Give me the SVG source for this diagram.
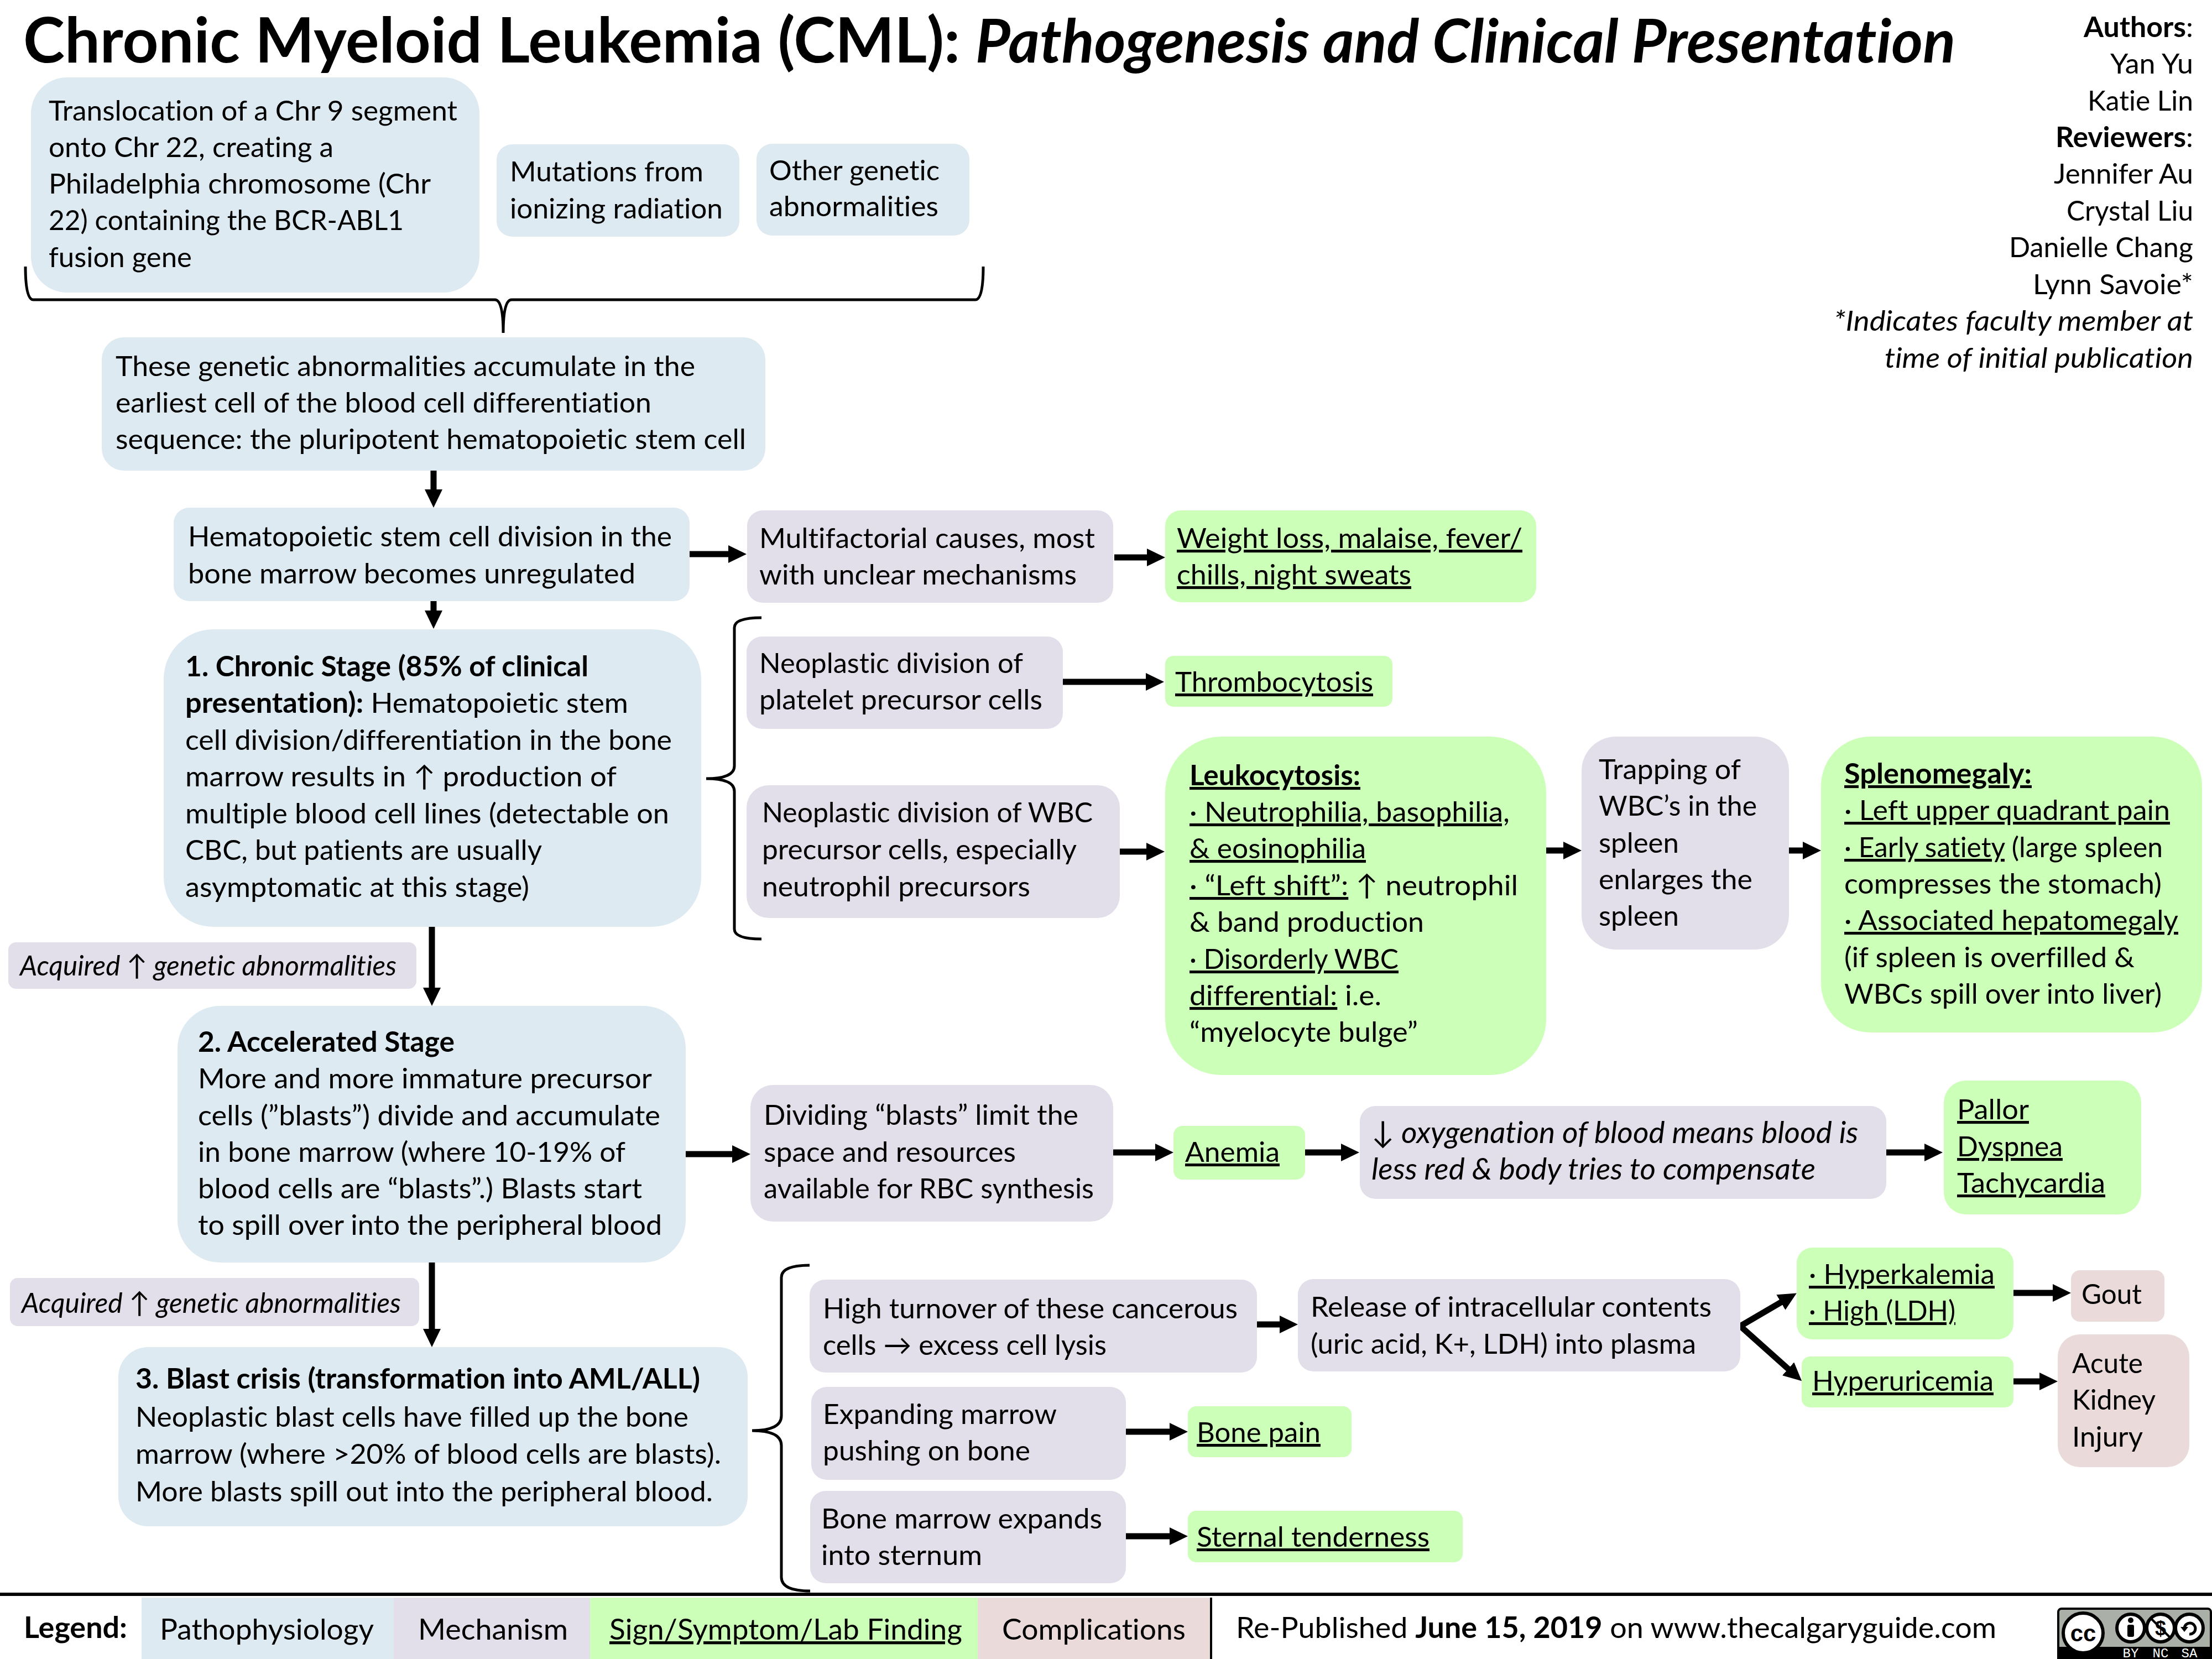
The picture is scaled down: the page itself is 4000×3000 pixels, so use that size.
<svg xmlns="http://www.w3.org/2000/svg" width="4000" height="3000" viewBox="0 0 4000 3000">
<style>
text{font-family:"Lato","DejaVu Sans",sans-serif;font-size:51px;fill:#000;font-variant-ligatures:none}
g[id^="n-"] text{transform:translate(-2px,0)}
.title{font-size:113.5px;font-weight:700}
.title .i{font-size:109px}
.lg{font-size:53px}
.ox{font-size:55px}
.b{font-weight:700}.i{font-style:italic}
.u{text-decoration:underline;text-decoration-thickness:6px;text-underline-offset:7px;text-decoration-skip-ink:none}
.blue{fill:#DEEAF1}.pur{fill:#E2DFEB}.grn{fill:#CCFFB8}.pink{fill:#EADADA}
.end{text-anchor:end}
.arr{fill:none;stroke:#000;stroke-width:11;marker-end:url(#h)}
.brace{fill:none;stroke:#000;stroke-width:5}
.icon{fill:#fff;stroke:#000;stroke-width:6}
.ctext{font-family:"Liberation Mono",monospace;font-size:24px;fill:#fff}
</style>
<defs>
<marker id="h" markerUnits="userSpaceOnUse" viewBox="0 0 33 32" markerWidth="33" markerHeight="32" refX="10" refY="16" orient="auto"><path d="M0 0L33 16L0 32z"/></marker>
</defs>
<rect width="4000" height="3000" fill="#fff"/>
<g id="title">
<text class="title" x="42" y="113" textLength="3494" lengthAdjust="spacingAndGlyphs">Chronic Myeloid Leukemia (CML): <tspan class="i">Pathogenesis and Clinical Presentation</tspan></text>
</g>
<g id="authors">
<text class="end" x="3966" y="67" textLength="198" lengthAdjust="spacingAndGlyphs"><tspan class="b">Authors</tspan>:</text>
<text class="end" x="3966" y="133" textLength="150" lengthAdjust="spacingAndGlyphs">Yan Yu</text>
<text class="end" x="3966" y="200" textLength="191" lengthAdjust="spacingAndGlyphs">Katie Lin</text>
<text class="end" x="3966" y="266" textLength="249" lengthAdjust="spacingAndGlyphs"><tspan class="b">Reviewers</tspan>:</text>
<text class="end" x="3966" y="332" textLength="252" lengthAdjust="spacingAndGlyphs">Jennifer Au</text>
<text class="end" x="3966" y="399" textLength="229" lengthAdjust="spacingAndGlyphs">Crystal Liu</text>
<text class="end" x="3966" y="465" textLength="333" lengthAdjust="spacingAndGlyphs">Danielle Chang</text>
<text class="end" x="3966" y="532" textLength="290" lengthAdjust="spacingAndGlyphs">Lynn Savoie*</text>
<text class="end i" x="3966" y="598" textLength="650" lengthAdjust="spacingAndGlyphs">*Indicates faculty member at</text>
<text class="end i" x="3966" y="665" textLength="558" lengthAdjust="spacingAndGlyphs">time of initial publication</text>
</g>
<g id="connectors">
<path class="brace" d="M46 482Q46 542 60 542L895 542Q910 542 910 602Q910 542 925 542L1764 542Q1778 542 1778 482"/>
<path class="brace" d="M1377 1117Q1328 1117 1328 1135L1328 1385Q1328 1408 1277 1408Q1328 1408 1328 1431L1328 1680Q1328 1698 1377 1698"/>
<path class="brace" d="M1464 2288Q1413 2288 1413 2310L1413 2560Q1413 2587 1360 2587Q1413 2587 1413 2614L1413 2852Q1413 2877 1465 2877"/>
<path class="arr" d="M784 851V895"/>
<path class="arr" d="M784 1087V1114"/>
<path class="arr" d="M781 1676V1796"/>
<path class="arr" d="M781 2283V2413"/>
<path class="arr" d="M1247 1002H1327"/>
<path class="arr" d="M2015 1008H2084"/>
<path class="arr" d="M1922 1233H2082"/>
<path class="arr" d="M2025 1540H2083"/>
<path class="arr" d="M2796 1538H2837"/>
<path class="arr" d="M3235 1538H3270"/>
<path class="arr" d="M1240 2087H1334"/>
<path class="arr" d="M2013 2084H2099"/>
<path class="arr" d="M2360 2084H2435"/>
<path class="arr" d="M3411 2084H3490"/>
<path class="arr" d="M2273 2395H2324"/>
<path class="arr" d="M3147 2398L3229 2350"/>
<path class="arr" d="M3147 2398L3241 2482"/>
<path class="arr" d="M3641 2338H3722"/>
<path class="arr" d="M3641 2498H3698"/>
<path class="arr" d="M2036 2589H2125"/>
<path class="arr" d="M2036 2778H2125"/>
</g>
<g id="n-translocation"><rect class="blue" x="56" y="140" width="811" height="389" rx="65"/>
<text x="90" y="218" textLength="739" lengthAdjust="spacingAndGlyphs">Translocation of a Chr 9 segment</text>
<text x="90" y="284" textLength="515" lengthAdjust="spacingAndGlyphs">onto Chr 22, creating a</text>
<text x="90" y="350" textLength="691" lengthAdjust="spacingAndGlyphs">Philadelphia chromosome (Chr</text>
<text x="90" y="416" textLength="642" lengthAdjust="spacingAndGlyphs">22) containing the BCR-ABL1</text>
<text x="90" y="483" textLength="259" lengthAdjust="spacingAndGlyphs">fusion gene</text></g>
<g id="n-mutations"><rect class="blue" x="898" y="261" width="439" height="167" rx="28"/>
<text x="924" y="328" textLength="350" lengthAdjust="spacingAndGlyphs">Mutations from</text>
<text x="924" y="395" textLength="385" lengthAdjust="spacingAndGlyphs">ionizing radiation</text></g>
<g id="n-other"><rect class="blue" x="1368" y="260" width="385" height="166" rx="28"/>
<text x="1393" y="326" textLength="308" lengthAdjust="spacingAndGlyphs">Other genetic</text>
<text x="1393" y="391" textLength="306" lengthAdjust="spacingAndGlyphs">abnormalities</text></g>
<g id="n-accumulate"><rect class="blue" x="184" y="610" width="1200" height="241" rx="40"/>
<text x="211" y="680" textLength="1048" lengthAdjust="spacingAndGlyphs">These genetic abnormalities accumulate in the</text>
<text x="211" y="746" textLength="969" lengthAdjust="spacingAndGlyphs">earliest cell of the blood cell differentiation</text>
<text x="211" y="812" textLength="1140" lengthAdjust="spacingAndGlyphs">sequence: the pluripotent hematopoietic stem cell</text></g>
<g id="n-unregulated"><rect class="blue" x="314" y="918" width="933" height="169" rx="28"/>
<text x="342" y="988" textLength="875" lengthAdjust="spacingAndGlyphs">Hematopoietic stem cell division in the</text>
<text x="342" y="1055" textLength="809" lengthAdjust="spacingAndGlyphs">bone marrow becomes unregulated</text></g>
<g id="n-chronic"><rect class="blue" x="296" y="1138" width="972" height="538" rx="90"/>
<text x="337" y="1223" class="b" textLength="729" lengthAdjust="spacingAndGlyphs">1. Chronic Stage (85% of clinical</text>
<text x="337" y="1289" textLength="801" lengthAdjust="spacingAndGlyphs"><tspan class="b">presentation):</tspan> Hematopoietic stem</text>
<text x="337" y="1356" textLength="880" lengthAdjust="spacingAndGlyphs">cell division/differentiation in the bone</text>
<text x="337" y="1422" textLength="780" lengthAdjust="spacingAndGlyphs">marrow results in ↑ production of</text>
<text x="337" y="1489" textLength="875" lengthAdjust="spacingAndGlyphs">multiple blood cell lines (detectable on</text>
<text x="337" y="1555" textLength="645" lengthAdjust="spacingAndGlyphs">CBC, but patients are usually</text>
<text x="337" y="1622" textLength="622" lengthAdjust="spacingAndGlyphs">asymptomatic at this stage)</text></g>
<g id="n-acquired1"><rect class="pur" x="15" y="1704" width="738" height="84" rx="14"/>
<text class="i" x="38" y="1764" textLength="681" lengthAdjust="spacingAndGlyphs">Acquired ↑ genetic abnormalities</text></g>
<g id="n-accelerated"><rect class="blue" x="321" y="1819" width="919" height="464" rx="77"/>
<text x="360" y="1902" class="b" textLength="464" lengthAdjust="spacingAndGlyphs">2. Accelerated Stage</text>
<text x="360" y="1968" textLength="821" lengthAdjust="spacingAndGlyphs">More and more immature precursor</text>
<text x="360" y="2035" textLength="836" lengthAdjust="spacingAndGlyphs">cells (”blasts”) divide and accumulate</text>
<text x="360" y="2101" textLength="773" lengthAdjust="spacingAndGlyphs">in bone marrow (where 10-19% of</text>
<text x="360" y="2167" textLength="803" lengthAdjust="spacingAndGlyphs">blood cells are “blasts”.) Blasts start</text>
<text x="360" y="2233" textLength="839" lengthAdjust="spacingAndGlyphs">to spill over into the peripheral blood</text></g>
<g id="n-acquired2"><rect class="pur" x="18" y="2311" width="740" height="87" rx="14"/>
<text class="i" x="41" y="2374" textLength="686" lengthAdjust="spacingAndGlyphs">Acquired ↑ genetic abnormalities</text></g>
<g id="n-blast"><rect class="blue" x="214" y="2436" width="1138" height="324" rx="54"/>
<text x="247" y="2511" class="b" textLength="1021" lengthAdjust="spacingAndGlyphs">3. Blast crisis (transformation into AML/ALL)</text>
<text x="247" y="2580" textLength="1000" lengthAdjust="spacingAndGlyphs">Neoplastic blast cells have filled up the bone</text>
<text x="247" y="2647" textLength="1059" lengthAdjust="spacingAndGlyphs">marrow (where &gt;20% of blood cells are blasts).</text>
<text x="247" y="2715" textLength="1044" lengthAdjust="spacingAndGlyphs">More blasts spill out into the peripheral blood.</text></g>
<g id="n-multifactorial"><rect class="pur" x="1351" y="923" width="662" height="167" rx="28"/>
<text x="1375" y="991" textLength="607" lengthAdjust="spacingAndGlyphs">Multifactorial causes, most</text>
<text x="1375" y="1057" textLength="574" lengthAdjust="spacingAndGlyphs">with unclear mechanisms</text></g>
<g id="n-platelet"><rect class="pur" x="1350" y="1151" width="572" height="167" rx="28"/>
<text x="1375" y="1217" textLength="477" lengthAdjust="spacingAndGlyphs">Neoplastic division of</text>
<text x="1375" y="1283" textLength="512" lengthAdjust="spacingAndGlyphs">platelet precursor cells</text></g>
<g id="n-wbc"><rect class="pur" x="1350" y="1420" width="675" height="240" rx="40"/>
<text x="1380" y="1487" textLength="598" lengthAdjust="spacingAndGlyphs">Neoplastic division of WBC</text>
<text x="1380" y="1554" textLength="569" lengthAdjust="spacingAndGlyphs">precursor cells, especially</text>
<text x="1380" y="1621" textLength="485" lengthAdjust="spacingAndGlyphs">neutrophil precursors</text></g>
<g id="n-weight"><rect class="grn" x="2107" y="923" width="671" height="166" rx="28"/>
<text class="u" x="2130" y="991" textLength="625" lengthAdjust="spacingAndGlyphs">Weight loss, malaise, fever/</text>
<text class="u" x="2130" y="1057" textLength="424" lengthAdjust="spacingAndGlyphs">chills, night sweats</text></g>
<g id="n-thrombo"><rect class="grn" x="2107" y="1186" width="411" height="92" rx="15"/>
<text class="u" x="2127" y="1251" textLength="358" lengthAdjust="spacingAndGlyphs">Thrombocytosis</text></g>
<g id="n-leuko"><rect class="grn" x="2107" y="1332" width="689" height="612" rx="102"/>
<text class="u b" x="2153" y="1420" textLength="309" lengthAdjust="spacingAndGlyphs">Leukocytosis:</text>
<text class="u" x="2153" y="1486" textLength="579" lengthAdjust="spacingAndGlyphs">· Neutrophilia, basophilia,</text>
<text class="u" x="2153" y="1552" textLength="319" lengthAdjust="spacingAndGlyphs">&amp; eosinophilia</text>
<text x="2153" y="1619" textLength="594" lengthAdjust="spacingAndGlyphs"><tspan class="u">· “Left shift”:</tspan> ↑ neutrophil</text>
<text x="2153" y="1685" textLength="424" lengthAdjust="spacingAndGlyphs">&amp; band production</text>
<text class="u" x="2153" y="1752" textLength="378" lengthAdjust="spacingAndGlyphs">· Disorderly WBC</text>
<text x="2153" y="1818" textLength="347" lengthAdjust="spacingAndGlyphs"><tspan class="u">differential:</tspan> i.e.</text>
<text x="2153" y="1884" textLength="413" lengthAdjust="spacingAndGlyphs">“myelocyte bulge”</text></g>
<g id="n-trapping"><rect class="pur" x="2860" y="1332" width="375" height="385" rx="62"/>
<text x="2893" y="1409" textLength="257" lengthAdjust="spacingAndGlyphs">Trapping of</text>
<text x="2893" y="1475" textLength="286" lengthAdjust="spacingAndGlyphs">WBC’s in the</text>
<text x="2893" y="1542" textLength="145" lengthAdjust="spacingAndGlyphs">spleen</text>
<text x="2893" y="1608" textLength="278" lengthAdjust="spacingAndGlyphs">enlarges the</text>
<text x="2893" y="1674" textLength="145" lengthAdjust="spacingAndGlyphs">spleen</text></g>
<g id="n-spleno"><rect class="grn" x="3293" y="1332" width="689" height="535" rx="89"/>
<text class="u b" x="3337" y="1417" textLength="339" lengthAdjust="spacingAndGlyphs">Splenomegaly:</text>
<text class="u" x="3337" y="1483" textLength="589" lengthAdjust="spacingAndGlyphs">· Left upper quadrant pain</text>
<text x="3337" y="1550" textLength="576" lengthAdjust="spacingAndGlyphs"><tspan class="u">· Early satiety</tspan> (large spleen</text>
<text x="3337" y="1616" textLength="574" lengthAdjust="spacingAndGlyphs">compresses the stomach)</text>
<text class="u" x="3337" y="1682" textLength="604" lengthAdjust="spacingAndGlyphs">· Associated hepatomegaly</text>
<text x="3337" y="1749" textLength="525" lengthAdjust="spacingAndGlyphs">(if spleen is overfilled &amp;</text>
<text x="3337" y="1815" textLength="574" lengthAdjust="spacingAndGlyphs">WBCs spill over into liver)</text></g>
<g id="n-dividing"><rect class="pur" x="1357" y="1962" width="656" height="247" rx="41"/>
<text x="1383" y="2034" textLength="569" lengthAdjust="spacingAndGlyphs">Dividing “blasts” limit the</text>
<text x="1383" y="2101" textLength="456" lengthAdjust="spacingAndGlyphs">space and resources</text>
<text x="1383" y="2167" textLength="597" lengthAdjust="spacingAndGlyphs">available for RBC synthesis</text></g>
<g id="n-anemia"><rect class="grn" x="2122" y="2036" width="238" height="97" rx="16"/>
<text class="u" x="2145" y="2101" textLength="171" lengthAdjust="spacingAndGlyphs">Anemia</text></g>
<g id="n-oxygen"><rect class="pur" x="2459" y="2000" width="952" height="168" rx="28"/>
<text class="i ox" x="2482" y="2067">↓ oxygenation of blood means blood is</text>
<text class="i ox" x="2482" y="2133">less red &amp; body tries to compensate</text></g>
<g id="n-pallor"><rect class="grn" x="3515" y="1954" width="357" height="242" rx="40"/>
<text class="u" x="3541" y="2024" textLength="130" lengthAdjust="spacingAndGlyphs">Pallor</text>
<text class="u" x="3541" y="2091" textLength="191" lengthAdjust="spacingAndGlyphs">Dyspnea</text>
<text class="u" x="3541" y="2157" textLength="268" lengthAdjust="spacingAndGlyphs">Tachycardia</text></g>
<g id="n-turnover"><rect class="pur" x="1464" y="2314" width="809" height="168" rx="28"/>
<text x="1490" y="2384" textLength="750" lengthAdjust="spacingAndGlyphs">High turnover of these cancerous</text>
<text x="1490" y="2450" textLength="513" lengthAdjust="spacingAndGlyphs">cells → excess cell lysis</text></g>
<g id="n-release"><rect class="pur" x="2347" y="2313" width="800" height="167" rx="28"/>
<text x="2372" y="2381" textLength="725" lengthAdjust="spacingAndGlyphs">Release of intracellular contents</text>
<text x="2372" y="2448" textLength="697" lengthAdjust="spacingAndGlyphs">(uric acid, K+, LDH) into plasma</text></g>
<g id="n-hyperk"><rect class="grn" x="3249" y="2256" width="392" height="166" rx="28"/>
<text class="u" x="3273" y="2322" textLength="336" lengthAdjust="spacingAndGlyphs">· Hyperkalemia</text>
<text class="u" x="3273" y="2388" textLength="265" lengthAdjust="spacingAndGlyphs">· High (LDH)</text></g>
<g id="n-hyperu"><rect class="grn" x="3258" y="2453" width="383" height="92" rx="15"/>
<text class="u" x="3279" y="2515" textLength="328" lengthAdjust="spacingAndGlyphs">Hyperuricemia</text></g>
<g id="n-gout"><rect class="pink" x="3745" y="2297" width="169" height="93" rx="16"/>
<text x="3766" y="2358" textLength="109" lengthAdjust="spacingAndGlyphs">Gout</text></g>
<g id="n-aki"><rect class="pink" x="3721" y="2413" width="238" height="240" rx="40"/>
<text x="3749" y="2483" textLength="128" lengthAdjust="spacingAndGlyphs">Acute</text>
<text x="3749" y="2549" textLength="151" lengthAdjust="spacingAndGlyphs">Kidney</text>
<text x="3749" y="2616" textLength="128" lengthAdjust="spacingAndGlyphs">Injury</text></g>
<g id="n-expanding"><rect class="pur" x="1467" y="2508" width="569" height="168" rx="28"/>
<text x="1490" y="2575" textLength="423" lengthAdjust="spacingAndGlyphs">Expanding marrow</text>
<text x="1490" y="2641" textLength="375" lengthAdjust="spacingAndGlyphs">pushing on bone</text></g>
<g id="n-sternum"><rect class="pur" x="1465" y="2696" width="571" height="167" rx="28"/>
<text x="1487" y="2764" textLength="508" lengthAdjust="spacingAndGlyphs">Bone marrow expands</text>
<text x="1487" y="2830" textLength="291" lengthAdjust="spacingAndGlyphs">into sternum</text></g>
<g id="n-bonepain"><rect class="grn" x="2148" y="2543" width="296" height="92" rx="15"/>
<text class="u" x="2166" y="2608" textLength="224" lengthAdjust="spacingAndGlyphs">Bone pain</text></g>
<g id="n-sternal"><rect class="grn" x="2148" y="2732" width="497" height="93" rx="15"/>
<text class="u" x="2166" y="2797" textLength="421" lengthAdjust="spacingAndGlyphs">Sternal tenderness</text></g>
<g id="legend">
<rect x="0" y="2880" width="4000" height="6"/>
<text class="b lg" x="43" y="2962" textLength="187" lengthAdjust="spacingAndGlyphs">Legend:</text>
<rect class="blue" x="256" y="2889" width="456" height="111"/>
<rect class="pur" x="712" y="2889" width="355" height="111"/>
<rect class="grn" x="1067" y="2889" width="701" height="111"/>
<rect class="pink" x="1768" y="2889" width="421" height="111"/>
<rect x="2188" y="2889" width="4" height="111"/>
<text class="lg" x="289" y="2965" textLength="387" lengthAdjust="spacingAndGlyphs">Pathophysiology</text>
<text class="lg" x="756" y="2965" textLength="271" lengthAdjust="spacingAndGlyphs">Mechanism</text>
<text class="u lg" x="1102" y="2965" textLength="638" lengthAdjust="spacingAndGlyphs">Sign/Symptom/Lab Finding</text>
<text class="lg" x="1812" y="2965" textLength="332" lengthAdjust="spacingAndGlyphs">Complications</text>
<text class="lg" x="2235" y="2962" textLength="1375" lengthAdjust="spacingAndGlyphs">Re-Published <tspan class="b">June 15, 2019</tspan> on www.thecalgaryguide.com</text>
</g>
<g id="cc-badge">
<rect x="3722" y="2909" width="276" height="100" rx="6" fill="#AAB0A8" stroke="#000" stroke-width="4"/>
<rect x="3722" y="2978" width="276" height="22"/>
<circle class="icon" cx="3767" cy="2953" r="36"/>
<text x="3767" y="2968" text-anchor="middle" style="font-family:'Liberation Sans',sans-serif;font-weight:700;font-size:42px">cc</text>
<circle class="icon" cx="3853" cy="2944" r="25"/><circle cx="3853" cy="2930" r="5"/><rect x="3847" y="2938" width="12" height="22" rx="3"/>
<circle class="icon" cx="3907" cy="2944" r="25"/><text x="3907" y="2957" text-anchor="middle" style="font-family:'Liberation Sans',sans-serif;font-weight:700;font-size:36px">$</text><path d="M3889 2926L3925 2962" stroke="#000" stroke-width="4"/>
<circle class="icon" cx="3959" cy="2944" r="25"/><path d="M3950 2944A10 10 0 1 1 3959 2955" fill="none" stroke="#000" stroke-width="5"/><path d="M3943 2942H3957L3950 2951z"/>
<text class="ctext" x="3853" y="2997" text-anchor="middle">BY</text><text class="ctext" x="3907" y="2997" text-anchor="middle">NC</text><text class="ctext" x="3959" y="2997" text-anchor="middle">SA</text>
</g>
</svg>
